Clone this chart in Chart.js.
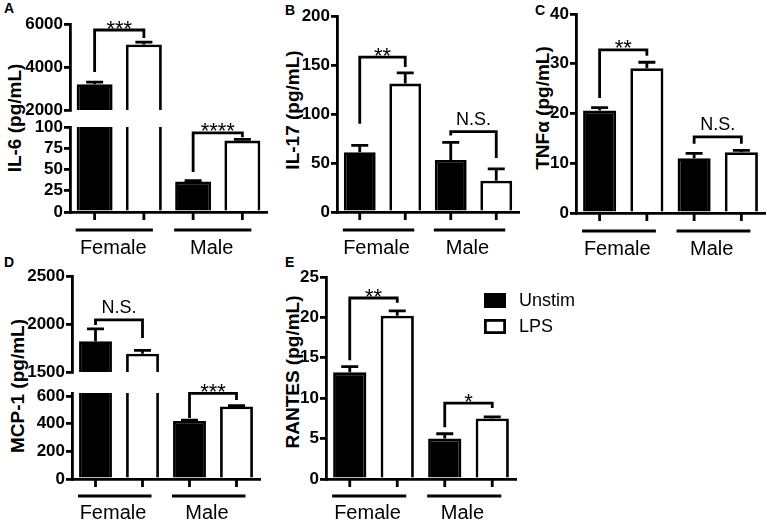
<!DOCTYPE html>
<html>
<head>
<meta charset="utf-8">
<script src="https://cdn.jsdelivr.net/npm/chart.js@4.4.1/dist/chart.umd.min.js"></script>
<style>
  body { margin: 0; background: #fff; }
  #fig { position: relative; width: 767px; height: 520px; overflow: hidden; font-family: "Liberation Sans", Arial, sans-serif; color: #000; }
  #fig canvas { position: absolute; }
  .letter { position: absolute; font-weight: bold; font-size: 14px; line-height: 1; }
  .ytitle { position: absolute; font-weight: bold; font-size: 19px; line-height: 1; white-space: nowrap; transform: translate(-50%, -50%) rotate(-90deg); }
</style>
</head>
<body>
<div id="fig">
  <div class="letter" style="left:4px;top:1px">A</div>
  <div class="letter" style="left:285px;top:3px">B</div>
  <div class="letter" style="left:535px;top:3px">C</div>
  <div class="letter" style="left:4px;top:255px">D</div>
  <div class="letter" style="left:285px;top:255px">E</div>

  <div class="ytitle" style="left:14px;top:118px">IL-6 (pg/mL)</div>
  <div class="ytitle" style="left:292px;top:110px">IL-17 (pg/mL)</div>
  <div class="ytitle" style="left:542px;top:108px">TNFα (pg/mL)</div>
  <div class="ytitle" style="left:17px;top:386px">MCP-1 (pg/mL)</div>
  <div class="ytitle" style="left:292px;top:372px">RANTES (pg/mL)</div>

  <canvas id="aTop"></canvas>
  <canvas id="aBot"></canvas>
  <canvas id="b"></canvas>
  <canvas id="c"></canvas>
  <canvas id="dTop"></canvas>
  <canvas id="dBot"></canvas>
  <canvas id="e"></canvas>
</div>

<script>
const groups = ['Female', 'Male'];
const seriesNames = ['Unstim', 'LPS'];

// A: IL-6 (broken axis)
const il6Unstim = [3200, 36];
const il6UnstimSem = [100, 1];
const il6Lps = [5050, 84];
const il6LpsSem = [110, 1.5];
const il6TopTicks = [2000, 4000, 6000];
const il6BotTicks = [0, 25, 50, 75, 100];
const il6Sig = ['***', '****'];
const il6SigLevel = [5720, 93];
const il6SigLeft = [3770, 47];
const il6SigRight = [5350, 88];

// B: IL-17
const il17Unstim = [61, 53];
const il17UnstimSem = [7, 18];
const il17Lps = [131, 32];
const il17LpsSem = [11, 12];
const il17Ticks = [0, 50, 100, 150, 200];
const il17Sig = ['**', 'N.S.'];
const il17SigLevel = [158, 82];
const il17SigLeft = [90, 78];
const il17SigRight = [148, 55];

// C: TNFa
const tnfUnstim = [20.6, 11];
const tnfUnstimSem = [0.6, 1.0];
const tnfLps = [29.1, 12.2];
const tnfLpsSem = [1.2, 0.4];
const tnfTicks = [0, 10, 20, 30, 40];
const tnfSig = ['**', 'N.S.'];
const tnfSigLevel = [32.8, 15.3];
const tnfSigLeft = [23.1, 13.9];
const tnfSigRight = [31.6, 13.9];

// D: MCP-1 (broken axis)
const mcpUnstim = [1820, 420];
const mcpUnstimSem = [130, 5];
const mcpLps = [1690, 525];
const mcpLpsSem = [35, 5];
const mcpTopTicks = [1500, 2000, 2500];
const mcpBotTicks = [0, 200, 400, 600];
const mcpSig = ['N.S.', '***'];
const mcpSigLevel = [2042, 620];
const mcpSigLeft = [1990, 441];
const mcpSigRight = [1854, 571];

// E: RANTES
const rantesUnstim = [13.2, 5.0];
const rantesUnstimSem = [0.7, 0.6];
const rantesLps = [20.2, 7.5];
const rantesLpsSem = [0.6, 0.2];
const rantesTicks = [0, 5, 10, 15, 20, 25];
const rantesSig = ['**', '*'];
const rantesSigLevel = [22.4, 9.4];
const rantesSigLeft = [14.7, 6.4];
const rantesSigRight = [21.8, 8.8];

const FAM = '"Liberation Sans", Arial, sans-serif';
const LW = 2.8;
Chart.defaults.font.family = FAM;
Chart.defaults.color = '#000';

// error bars, significance brackets, x decorations and legend
const decor = {
  id: 'decor',
  afterDatasetsDraw(chart, args, o) {
    const { ctx, chartArea: a, scales: { y } } = chart;
    const bars = [0, 1].map(d => chart.getDatasetMeta(d).data);
    ctx.save();
    ctx.strokeStyle = '#000';
    ctx.fillStyle = '#000';
    ctx.lineWidth = LW;

    ctx.save();
    ctx.beginPath();
    ctx.rect(a.left, a.top - 1, a.width, a.height + 1);
    ctx.clip();
    o.sem.forEach((errs, d) => errs.forEach((e, i) => {
      const v = chart.data.datasets[d].data[i];
      const bx = bars[d][i].x;
      const y0 = y.getPixelForValue(v), y1 = y.getPixelForValue(v + e);
      ctx.beginPath();
      ctx.moveTo(bx, y0); ctx.lineTo(bx, y1);
      ctx.moveTo(bx - 8.5, y1); ctx.lineTo(bx + 8.5, y1);
      ctx.stroke();
    }));
    ctx.restore();

    o.sig.labels.forEach((lab, i) => {
      const lv = o.sig.level[i];
      if (lv < y.min || lv > y.max) return;
      const xl = bars[0][i].x, xr = bars[1][i].x, yl = y.getPixelForValue(lv);
      ctx.beginPath();
      ctx.moveTo(xl, y.getPixelForValue(o.sig.left[i]));
      ctx.lineTo(xl, yl); ctx.lineTo(xr, yl);
      ctx.lineTo(xr, y.getPixelForValue(o.sig.right[i]));
      ctx.stroke();
      const star = lab.includes('*');
      ctx.font = (star ? '22px ' : '18px ') + FAM;
      ctx.textAlign = 'center';
      ctx.textBaseline = 'alphabetic';
      ctx.fillText(lab, (xl + xr) / 2, yl + (star ? 5.5 : -6.5));
    });

    if (o.axisMarks) {
      ctx.beginPath();
      bars.forEach(ds => ds.forEach(b => { ctx.moveTo(b.x, a.bottom); ctx.lineTo(b.x, a.bottom + 8); }));
      groups.forEach((g, i) => {
        const b0 = bars[0][i], b1 = bars[1][i];
        ctx.moveTo(b0.x - b0.width / 2 - 1, a.bottom + o.lineGap);
        ctx.lineTo(b1.x + 9, a.bottom + o.lineGap);
      });
      ctx.stroke();
    }

    if (o.legend) {
      const lx = a.right + o.legend.dx, ly = a.top + o.legend.dy;
      ctx.font = '18px ' + FAM;
      ctx.textAlign = 'left';
      ctx.textBaseline = 'middle';
      chart.data.datasets.forEach((ds, d) => {
        const top = ly + d * 26;
        ctx.fillStyle = ds.backgroundColor;
        ctx.fillRect(lx, top, 22, 15);
        ctx.strokeRect(lx + LW / 2, top + LW / 2, 22 - LW, 15 - LW);
        ctx.fillStyle = '#000';
        ctx.fillText(ds.label, lx + 35, top + 8);
      });
    }
    ctx.restore();
  }
};

function makePanel(id, box, area, cfg) {
  const cv = document.getElementById(id);
  cv.width = box.w; cv.height = box.h;
  cv.style.left = box.x + 'px';
  cv.style.top = box.y + 'px';
  const yW = 50;
  const xH = box.y + box.h - area.bottom;
  const barStyle = { borderColor: '#000', borderWidth: LW, categoryPercentage: 1, barPercentage: cfg.barPct, clip: 0 };
  return new Chart(cv, {
    type: 'bar',
    data: {
      labels: groups,
      datasets: [
        Object.assign({ label: seriesNames[0], data: cfg.unstim, backgroundColor: '#000' }, barStyle),
        Object.assign({ label: seriesNames[1], data: cfg.lps, backgroundColor: '#fff' }, barStyle)
      ]
    },
    options: {
      responsive: false,
      animation: false,
      devicePixelRatio: 1,
      layout: {
        padding: {
          left: area.left - box.x - yW,
          right: box.x + box.w - area.right,
          top: area.top - box.y,
          bottom: cfg.showX ? 0 : xH
        }
      },
      plugins: {
        legend: { display: false },
        tooltip: { enabled: false },
        decor: {
          sem: cfg.sem,
          sig: cfg.sig,
          axisMarks: cfg.showX,
          lineGap: cfg.lineGap || 18,
          legend: cfg.legend || null
        }
      },
      scales: {
        x: {
          display: cfg.showX,
          grid: { display: false, drawTicks: false },
          border: { display: true, color: '#000', width: LW },
          ticks: { color: '#000', font: { size: 20 }, padding: cfg.labelPad || 24, labelOffset: -6,
                   autoSkip: false, maxRotation: 0 },
          afterFit: s => { s.height = cfg.showX ? xH : 0; }
        },
        y: {
          min: cfg.min,
          max: cfg.max,
          grid: { drawOnChartArea: false, drawTicks: true, tickLength: 6, color: '#000', lineWidth: LW },
          border: { display: true, color: '#000', width: LW },
          ticks: { autoSkip: false, color: '#000', padding: 1,
                   font: { size: 17, weight: 'bold' }, callback: v => String(v) },
          afterBuildTicks: s => { s.ticks = cfg.ticks.map(v => ({ value: v })); },
          afterFit: s => { s.width = yW; }
        }
      }
    },
    plugins: [decor]
  });
}

const il6SigCfg = { labels: il6Sig, level: il6SigLevel, left: il6SigLeft, right: il6SigRight };
const mcpSigCfg = { labels: mcpSig, level: mcpSigLevel, left: mcpSigLeft, right: mcpSigRight };

makePanel('aTop', { x: 0, y: 0, w: 280, h: 125 }, { left: 70, right: 267, top: 24, bottom: 110 },
  { unstim: il6Unstim, lps: il6Lps, sem: [il6UnstimSem, il6LpsSem], sig: il6SigCfg,
    min: 2000, max: 6000, ticks: il6TopTicks, barPct: 0.73, showX: false });
makePanel('aBot', { x: 0, y: 100, w: 280, h: 162 }, { left: 70, right: 267, top: 127, bottom: 212 },
  { unstim: il6Unstim, lps: il6Lps, sem: [il6UnstimSem, il6LpsSem], sig: il6SigCfg,
    min: 0, max: 100, ticks: il6BotTicks, barPct: 0.73, showX: true });

makePanel('b', { x: 280, y: 0, w: 250, h: 262 }, { left: 337, right: 519, top: 16, bottom: 212 },
  { unstim: il17Unstim, lps: il17Lps, sem: [il17UnstimSem, il17LpsSem],
    sig: { labels: il17Sig, level: il17SigLevel, left: il17SigLeft, right: il17SigRight },
    min: 0, max: 200, ticks: il17Ticks, barPct: 0.7, showX: true });

makePanel('c', { x: 520, y: 0, w: 247, h: 262 }, { left: 576, right: 765, top: 14, bottom: 213 },
  { unstim: tnfUnstim, lps: tnfLps, sem: [tnfUnstimSem, tnfLpsSem],
    sig: { labels: tnfSig, level: tnfSigLevel, left: tnfSigLeft, right: tnfSigRight },
    min: 0, max: 40, ticks: tnfTicks, barPct: 0.7, showX: true });

makePanel('dTop', { x: 0, y: 262, w: 280, h: 125 }, { left: 72, right: 260, top: 276, bottom: 372 },
  { unstim: mcpUnstim, lps: mcpLps, sem: [mcpUnstimSem, mcpLpsSem], sig: mcpSigCfg,
    min: 1500, max: 2500, ticks: mcpTopTicks, barPct: 0.7, showX: false });
makePanel('dBot', { x: 0, y: 360, w: 280, h: 160 }, { left: 72, right: 260, top: 393, bottom: 479 },
  { unstim: mcpUnstim, lps: mcpLps, sem: [mcpUnstimSem, mcpLpsSem], sig: mcpSigCfg,
    min: 0, max: 622, ticks: mcpBotTicks, barPct: 0.7, showX: true, labelPad: 22, lineGap: 17 });

makePanel('e', { x: 270, y: 262, w: 330, h: 258 }, { left: 326, right: 516, top: 277, bottom: 479 },
  { unstim: rantesUnstim, lps: rantesLps, sem: [rantesUnstimSem, rantesLpsSem],
    sig: { labels: rantesSig, level: rantesSigLevel, left: rantesSigLeft, right: rantesSigRight },
    min: 0, max: 25, ticks: rantesTicks, barPct: 0.7, showX: true, labelPad: 22, lineGap: 17,
    legend: { dx: -32, dy: 16 } });
</script>
</body>
</html>
